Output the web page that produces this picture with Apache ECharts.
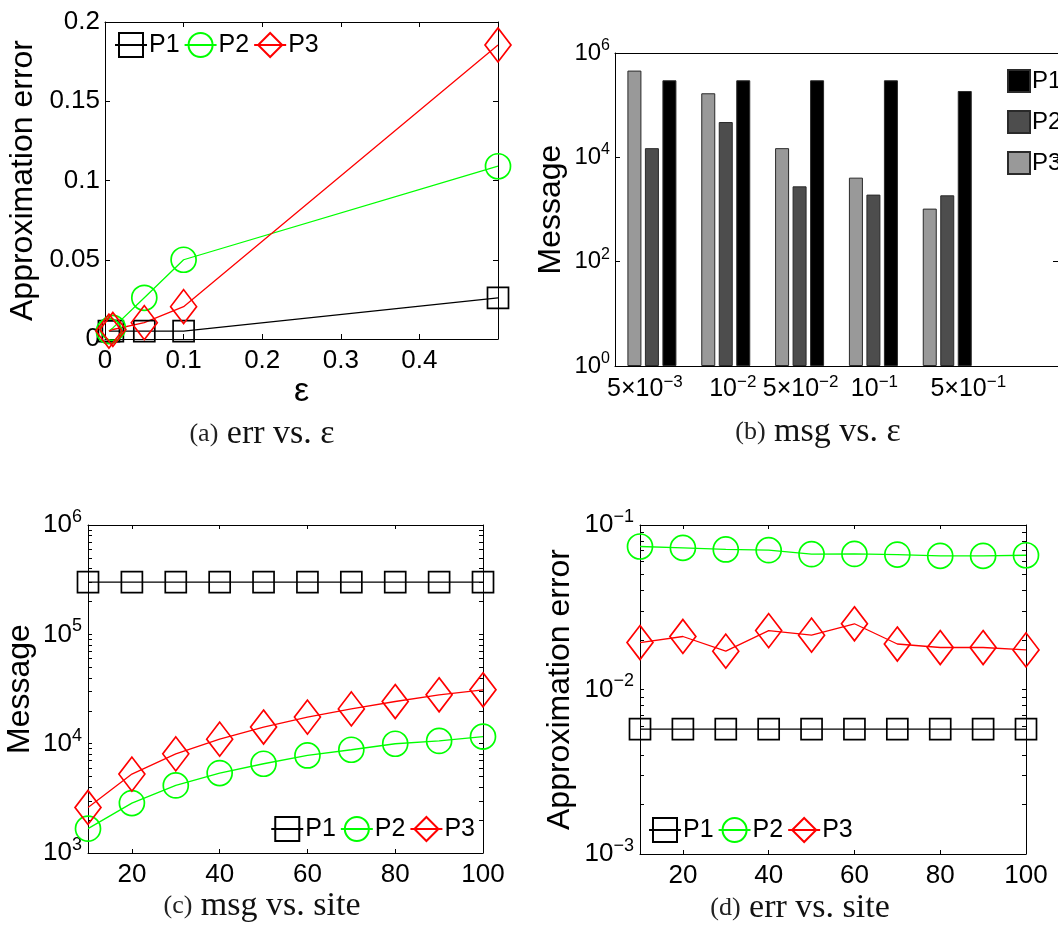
<!DOCTYPE html>
<html>
<head>
<meta charset="utf-8">
<script src="https://cdn.jsdelivr.net/npm/echarts@6/dist/echarts.min.js"></script>
<style>
  html, body { margin: 0; padding: 0; background: #fff; }
  #chart { width: 1058px; height: 928px; }
</style>
</head>
<body>
<div id="chart"></div>
<script>
// (a) approximation error vs epsilon
const epsValues = [0.005, 0.01, 0.05, 0.1, 0.5];
const errEpsP1 = [0.005, 0.005, 0.005, 0.005, 0.026];
const errEpsP2 = [0.005, 0.007, 0.026, 0.050, 0.109];
const errEpsP3 = [0.005, 0.006, 0.0103, 0.0204, 0.1855];

// (b) messages vs epsilon (bars)
const epsMantissa = ['5×10', '10', '5×10', '10', '5×10'];
const epsExponent = ['−3', '−2', '−2', '−1', '−1'];
const msgEpsP1 = [3.0e5, 3.0e5, 3.0e5, 3.0e5, 1.87e5];
const msgEpsP2 = [1.5e4, 4.75e4, 2.78e3, 1.93e3, 1.87e3];
const msgEpsP3 = [4.6e5, 1.69e5, 1.5e4, 4.08e3, 1.04e3];

// (c) messages vs number of sites
const sites = [10, 20, 30, 40, 50, 60, 70, 80, 90, 100];
const msgSiteP1 = [3.0e5, 3.0e5, 3.0e5, 3.0e5, 3.0e5, 3.0e5, 3.0e5, 3.0e5, 3.0e5, 3.0e5];
const msgSiteP2 = [1.67e3, 2.86e3, 4.15e3, 5.38e3, 6.55e3, 7.8e3, 8.8e3, 9.98e3, 1.06e4, 1.16e4];
const msgSiteP3 = [2.61e3, 5.27e3, 8.07e3, 1.10e4, 1.42e4, 1.75e4, 2.08e4, 2.43e4, 2.8e4, 3.11e4];

// (d) approximation error vs number of sites
const errSiteP1 = [0.00574, 0.00574, 0.00574, 0.00574, 0.00574, 0.00574, 0.00574, 0.00574, 0.00574, 0.00574];
const errSiteP2 = [0.074, 0.0726, 0.071, 0.0703, 0.0665, 0.0667, 0.0661, 0.0649, 0.0649, 0.0655];
const errSiteP3 = [0.0193, 0.021, 0.0171, 0.0228, 0.0214, 0.0251, 0.0189, 0.018, 0.018, 0.0174];

// tick labels
const errEpsXTicks = [0, 0.1, 0.2, 0.3, 0.4];
const siteXTicks = [20, 40, 60, 80, 100];
const msgEpsYTicks = [1, 1e2, 1e4, 1e6];
const msgSiteYTicks = [1e3, 1e4, 1e5, 1e6];
const errSiteYTicks = [1e-3, 1e-2, 1e-1];
const seriesNames = ['P1', 'P2', 'P3'];

const SANS = '"Liberation Sans", Arial, sans-serif';
const SERIF = '"Liberation Serif", "DejaVu Serif", serif';
const GREEN = '#00ff00', RED = '#ff0000', BLACK = '#000000';

// minor ticks for the log axes: 1..9 x 10^k
function logTicks(lo, hi) {
  const out = [];
  for (let e = lo; e < hi; e++) {
    for (let m = 1; m < 10; m++) out.push(+(m * Math.pow(10, e)).toPrecision(3));
  }
  out.push(Math.pow(10, hi));
  return out;
}

function powLabel(v) {
  const e = Math.round(Math.log10(v));
  return '{b|10}{s|' + (e < 0 ? '−' + (-e) : e) + '}';
}

function supRich(size, supSize, raise) {
  return {
    b: { fontFamily: SANS, fontSize: size, color: BLACK },
    s: { fontFamily: SANS, fontSize: supSize, color: BLACK, padding: [0, 0, raise, 0] }
  };
}

const axisLine = { show: true, onZero: false, lineStyle: { color: BLACK, width: 1 } };
const tick = (len, vals) => {
  const t = { show: true, inside: true, length: len, lineStyle: { color: BLACK, width: 1 } };
  if (vals) t.customValues = vals;
  return t;
};

// mirrored axes that close the box (ticks only)
function mirrorX(gi, base) {
  return Object.assign({ gridIndex: gi, position: 'top', axisLine, splitLine: { show: false },
    axisLabel: { show: false } }, base);
}
function mirrorY(gi, base) {
  return Object.assign({ gridIndex: gi, position: 'right', axisLine, splitLine: { show: false },
    axisLabel: { show: false } }, base);
}

function lineSeries(name, color, symbol, size, axis, data) {
  return {
    type: 'line', name, xAxisIndex: axis, yAxisIndex: axis, data,
    symbol, symbolSize: size, showSymbol: true, showAllSymbol: true, clip: false,
    lineStyle: { color, width: 1.3 },
    itemStyle: { color: 'rgba(255,255,255,0)', borderColor: color, borderWidth: 1.7 },
    emphasis: { disabled: true }
  };
}

function threeLines(axis, xs, p1, p2, p3) {
  return [
    lineSeries('P1', BLACK, 'rect', [21, 21], axis, xs.map((x, i) => [x, p1[i]])),
    lineSeries('P2', GREEN, 'circle', 25, axis, xs.map((x, i) => [x, p2[i]])),
    lineSeries('P3', RED, 'diamond', [26, 34], axis, xs.map((x, i) => [x, p3[i]]))
  ];
}

function lineLegend(pos) {
  return Object.assign({
    orient: 'horizontal', itemWidth: 32, itemHeight: 30, itemGap: 4, padding: 0,
    selectedMode: false, data: seriesNames,
    textStyle: { fontFamily: SANS, fontSize: 25, color: BLACK, padding: [0, 0, 0, -3] }
  }, pos);
}

// category labels for (b) with small shifts like the original
const labelShift = [-7, 7, 1, 1, 21];
const catRich = {};
labelShift.forEach((s, i) => {
  catRich['b' + i] = { fontFamily: SANS, fontSize: 25, color: BLACK,
    padding: s > 0 ? [0, 0, 0, 2 * s] : [0, 0, 0, 0] };
  catRich['s' + i] = { fontFamily: SANS, fontSize: 17, color: BLACK,
    padding: s < 0 ? [0, -2 * s, 13, 0] : [0, 0, 13, 0] };
});

const barColors = { P1: '#000000', P2: '#4d4d4d', P3: '#999999' };
function barSeries(name, data) {
  return {
    type: 'bar', name: 'bar' + name, xAxisIndex: 2, yAxisIndex: 2, data,
    barWidth: 14, barGap: '25%',
    itemStyle: { color: barColors[name], borderColor: '#2a2a2a', borderWidth: 1 },
    emphasis: { disabled: true }
  };
}

const chart = echarts.init(document.getElementById('chart'), null, { renderer: 'canvas' });

const option = {
  animation: false,
  backgroundColor: '#fff',
  grid: [
    { left: 105, top: 22, width: 393, height: 317 },
    { left: 615, top: 53, width: 480, height: 313 },
    { left: 88, top: 525, width: 395, height: 328 },
    { left: 640, top: 525, width: 386, height: 329 }
  ],
  xAxis: [
    // (a)
    { gridIndex: 0, type: 'value', min: 0, max: 0.5, axisLine, splitLine: { show: false },
      axisTick: tick(5, errEpsXTicks),
      axisLabel: { customValues: errEpsXTicks, margin: 9, fontFamily: SANS, fontSize: 26, color: BLACK },
      name: 'ε', nameLocation: 'middle', nameGap: 30,
      nameTextStyle: { fontFamily: SANS, fontSize: 34, color: BLACK } },
    mirrorX(0, { type: 'value', min: 0, max: 0.5, axisTick: tick(5, errEpsXTicks) }),
    // (b)
    { gridIndex: 1, type: 'category', data: epsValues.map(String).concat(['']), axisLine,
      axisTick: { show: false }, splitLine: { show: false },
      axisLabel: { margin: 8, interval: 0,
        formatter: (v, i) => i < epsMantissa.length ? '{b' + i + '|' + epsMantissa[i] + '}{s' + i + '|' + epsExponent[i] + '}' : '',
        rich: catRich } },
    mirrorX(1, { type: 'category', data: epsValues.map(String).concat(['']), axisTick: { show: false } }),
    // (c)
    { gridIndex: 2, type: 'value', min: 10, max: 100, axisLine, splitLine: { show: false },
      axisTick: tick(4, siteXTicks),
      axisLabel: { customValues: siteXTicks, margin: 9, fontFamily: SANS, fontSize: 26, color: BLACK } },
    mirrorX(2, { type: 'value', min: 10, max: 100, axisTick: tick(4, siteXTicks) }),
    // (d)
    { gridIndex: 3, type: 'value', min: 10, max: 100, axisLine, splitLine: { show: false },
      axisTick: tick(4, siteXTicks),
      axisLabel: { customValues: siteXTicks, margin: 9, fontFamily: SANS, fontSize: 26, color: BLACK } },
    mirrorX(3, { type: 'value', min: 10, max: 100, axisTick: tick(4, siteXTicks) })
  ],
  yAxis: [
    // (a)
    { gridIndex: 0, type: 'value', min: 0, max: 0.2, interval: 0.05, axisLine, splitLine: { show: false },
      axisTick: tick(5), axisLabel: { margin: 5, fontFamily: SANS, fontSize: 26, color: BLACK },
      name: 'Approximation error', nameLocation: 'middle', nameGap: 66,
      nameTextStyle: { fontFamily: SANS, fontSize: 32, color: BLACK } },
    mirrorY(0, { type: 'value', min: 0, max: 0.2, interval: 0.05, axisTick: tick(5) }),
    // (b)
    { gridIndex: 1, type: 'log', logBase: 10, min: 1, max: 1e6, axisLine, splitLine: { show: false },
      axisTick: tick(5, msgEpsYTicks),
      axisLabel: { customValues: msgEpsYTicks, margin: 5, formatter: powLabel, rich: supRich(24, 16, 15) },
      name: 'Message', nameLocation: 'middle', nameGap: 48,
      nameTextStyle: { fontFamily: SANS, fontSize: 32, color: BLACK } },
    mirrorY(1, { type: 'log', logBase: 10, min: 1, max: 1e6, axisTick: tick(5, msgEpsYTicks) }),
    // (c)
    { gridIndex: 2, type: 'log', logBase: 10, min: 1e3, max: 1e6, axisLine, splitLine: { show: false },
      axisTick: tick(4, logTicks(3, 6)),
      axisLabel: { customValues: msgSiteYTicks, margin: 6, formatter: powLabel, rich: supRich(26, 18, 16) },
      name: 'Message', nameLocation: 'middle', nameGap: 52,
      nameTextStyle: { fontFamily: SANS, fontSize: 32, color: BLACK } },
    mirrorY(2, { type: 'log', logBase: 10, min: 1e3, max: 1e6, axisTick: tick(4, logTicks(3, 6)) }),
    // (d)
    { gridIndex: 3, type: 'log', logBase: 10, min: 1e-3, max: 1e-1, axisLine, splitLine: { show: false },
      axisTick: tick(4, logTicks(-3, -1)),
      axisLabel: { customValues: errSiteYTicks, margin: 6, formatter: powLabel, rich: supRich(26, 18, 16) },
      name: 'Approximation error', nameLocation: 'middle', nameGap: 64,
      nameTextStyle: { fontFamily: SANS, fontSize: 32, color: BLACK } },
    mirrorY(3, { type: 'log', logBase: 10, min: 1e-3, max: 1e-1, axisTick: tick(4, logTicks(-3, -1)) })
  ],
  legend: [
    lineLegend({ left: 114, top: 32 }),
    { orient: 'vertical', left: 1007, top: 69, itemWidth: 22, itemHeight: 22, itemGap: 17, padding: 0,
      icon: 'rect', selectedMode: false, data: ['barP1', 'barP2', 'barP3'], formatter: n => n.slice(3),
      textStyle: { fontFamily: SANS, fontSize: 24, color: BLACK, padding: [0, 0, 0, -3] } },
    lineLegend({ right: 583, top: 816 }),
    lineLegend({ left: 648, top: 817 })
  ],
  series: [
    ...threeLines(0, epsValues, errEpsP1, errEpsP2, errEpsP3),
    barSeries('P3', msgEpsP3),
    barSeries('P2', msgEpsP2),
    barSeries('P1', msgEpsP1),
    ...threeLines(4, sites, msgSiteP1, msgSiteP2, msgSiteP3),
    ...threeLines(6, sites, errSiteP1, errSiteP2, errSiteP3)
  ],
  graphic: [
    ['(a)', 'err vs. ε', 262, 434],
    ['(b)', 'msg vs. ε', 818, 432],
    ['(c)', 'msg vs. site', 262, 906],
    ['(d)', 'err vs. site', 800, 908]
  ].map(([p, t, x, y]) => ({
    type: 'text', x, y,
    style: {
      text: '{p|' + p + '}{m| ' + t + '}',
      textAlign: 'center', textVerticalAlign: 'middle',
      rich: {
        p: { fontFamily: SERIF, fontSize: 26, fill: '#222' },
        m: { fontFamily: SERIF, fontSize: 34, fill: '#111' }
      }
    }
  }))
};

chart.setOption(option);
</script>
</body>
</html>
